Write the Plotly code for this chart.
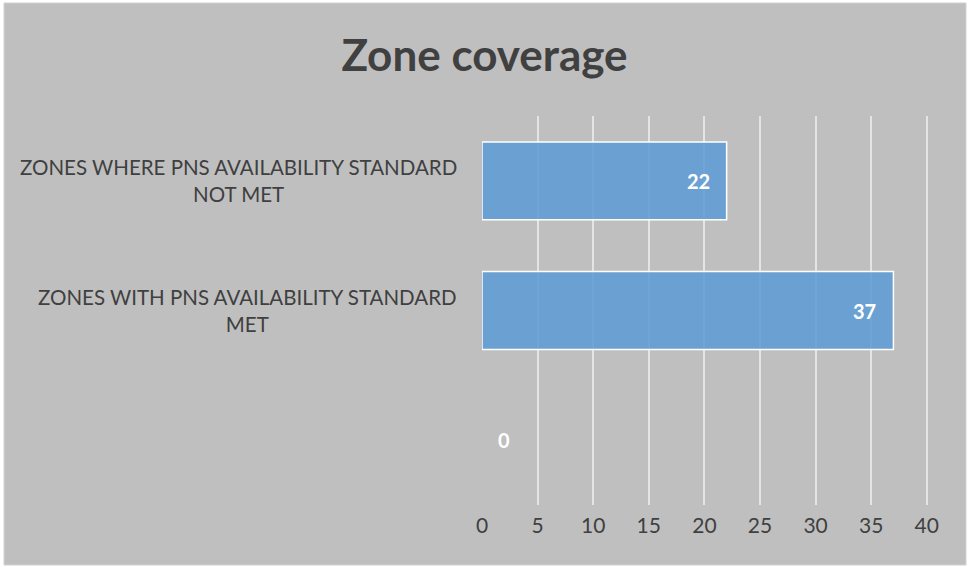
import plotly.graph_objects as go

# Zone coverage data (bottom-to-top order of the horizontal bars)
categories = ["", "ZONES WITH PNS AVAILABILITY STANDARD<br>MET",
              "ZONES WHERE PNS AVAILABILITY STANDARD<br>NOT MET"]
values = [0, 37, 22]
x_ticks = [0, 5, 10, 15, 20, 25, 30, 35, 40]

BG = "#bfbfbf"
TEXT = "#404040"
BAR = "rgba(91,155,213,0.85)"
FONT = "Lato, 'Open Sans', sans-serif"

positions = list(range(len(categories)))

fig = go.Figure()
fig.add_trace(go.Bar(
    x=values,
    y=positions,
    orientation="h",
    marker=dict(color=BAR,
                line=dict(color="white",
                          width=[1.5 if v > 0 else 0 for v in values])),
    hoverinfo="x+y",
    showlegend=False,
))

# value labels at the inner end of each bar
for pos, val in zip(positions, values):
    fig.add_annotation(
        x=val, y=pos, xref="x", yref="y",
        text=f"<b>{val}</b>",
        showarrow=False,
        xanchor="right" if val > 0 else "left",
        xshift=-15 if val > 0 else 14,
        font=dict(family=FONT, size=20, color="white"),
    )

# centred two-line category labels
for pos, cat in zip(positions, categories):
    if cat:
        fig.add_annotation(
            x=0, y=pos, xref="paper", yref="y",
            text=cat, showarrow=False, align="center",
            xanchor="right", xshift=-23,
            font=dict(family=FONT, size=20.5, color=TEXT),
        )

# grey chart panel
PW = 447.5
fig.add_shape(type="rect", xref="paper", yref="paper", layer="below",
              x0=(3 - 481.5) / PW, x1=(966 - 481.5) / PW,
              y0=(505 - 565) / 389, y1=(505 - 3) / 389,
              fillcolor=BG, line=dict(color="#d0d0d0", width=1))

fig.update_layout(
    width=969, height=567,
    margin=dict(l=481.5, r=40, t=116, b=62),
    paper_bgcolor="white",
    plot_bgcolor="rgba(0,0,0,0)",
    bargap=0.4,
    title=dict(text="<b>Zone coverage</b>", x=0.5, xref="container",
               xanchor="center",
               y=1 - 56 / 567, yanchor="middle",
               font=dict(family=FONT, size=44, color=TEXT)),
    xaxis=dict(range=[0, 40.2], tickvals=x_ticks, showgrid=True,
               gridcolor="#e4e4e4", gridwidth=1.5, zeroline=False,
               showline=False, ticks="", ticklabelstandoff=6,
               tickfont=dict(family=FONT, size=21, color=TEXT)),
    yaxis=dict(range=[-0.5, 2.5], showticklabels=False, showgrid=False,
               zeroline=False, showline=False, ticks=""),
    font=dict(family=FONT),
)

fig.write_html("out.html")
